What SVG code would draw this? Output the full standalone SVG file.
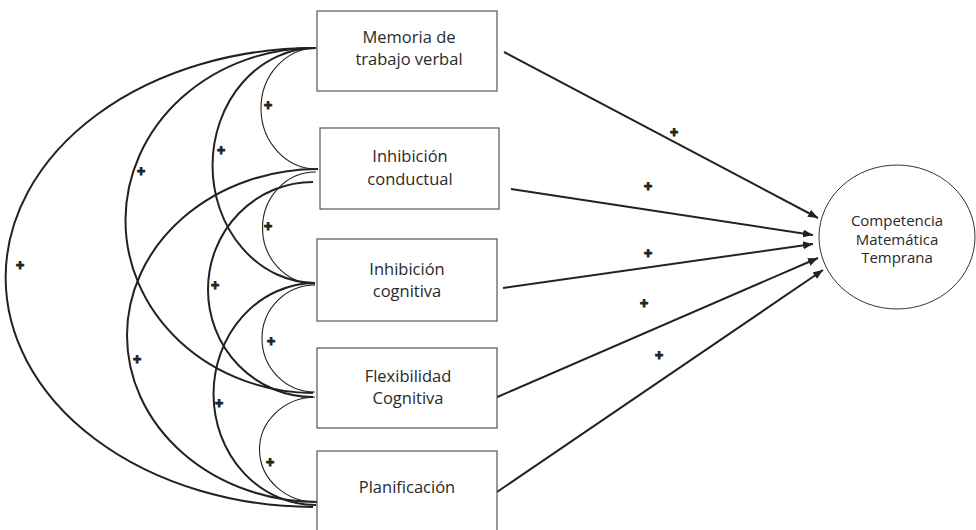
<svg xmlns="http://www.w3.org/2000/svg" width="976" height="530" viewBox="0 0 976 530">
<style>
.box{fill:#fff;stroke:#555;stroke-width:1.2}
.lbl{font-family:"Open Sans","Noto Sans",sans-serif;font-size:16.5px;fill:#2a2a2a;text-anchor:middle}
.elbl{font-family:"Open Sans","Noto Sans",sans-serif;font-size:15px;fill:#2a2a2a;text-anchor:middle}
.thin{fill:none;stroke:#222;stroke-width:1.1}
.thick{fill:none;stroke:#222;stroke-width:2}
.arr{fill:none;stroke:#222;stroke-width:2;marker-end:url(#ah)}
.plus{font-family:"Liberation Sans",sans-serif;font-weight:bold;font-size:14px;fill:#222;stroke:#222;stroke-width:1;text-anchor:middle}
</style>
<defs>
<marker id="ah" viewBox="0 0 10 8" refX="10" refY="4" markerWidth="10" markerHeight="8" markerUnits="userSpaceOnUse" orient="auto">
<path d="M0,0 L10,4 L0,8 z" fill="#222"/>
</marker>
</defs>
<g id="connectors">
<path class="thin" d="M316,48 A56,60.5 0 0 0 318,169"/>
<path class="thin" d="M316,172 A53,56 0 0 0 315,284"/>
<path class="thin" d="M315,285 A53,53.5 0 0 0 315,392"/>
<path class="thin" d="M315,397 A57,52.5 0 0 0 318,502"/>
<path class="thick" d="M316,48 A103,117.5 0 0 0 315,283"/>
<path class="thick" d="M313,182 A105,107.5 0 0 0 313,397"/>
<path class="thick" d="M315,283 A102,111 0 0 0 316,505"/>
<path class="thick" d="M316,48 A189,172.5 0 0 0 313,393"/>
<path class="thick" d="M318,169 A191,166.5 0 0 0 318,502"/>
<path class="thick" d="M316,48 A309,229.5 0 0 0 313,507"/>
<line class="arr" x1="504" y1="52" x2="818" y2="218"/>
<line class="arr" x1="511" y1="189" x2="813" y2="235"/>
<line class="arr" x1="503" y1="288" x2="813" y2="244"/>
<line class="arr" x1="495" y1="398" x2="818" y2="258"/>
<line class="arr" x1="497" y1="492" x2="823" y2="270"/>
<text class="plus" x="268" y="110">+</text>
<text class="plus" x="268" y="231">+</text>
<text class="plus" x="271" y="346">+</text>
<text class="plus" x="270" y="467">+</text>
<text class="plus" x="221" y="155">+</text>
<text class="plus" x="215" y="290">+</text>
<text class="plus" x="219" y="408">+</text>
<text class="plus" x="141" y="176">+</text>
<text class="plus" x="137" y="364">+</text>
<text class="plus" x="20" y="270">+</text>
<text class="plus" x="674" y="137">+</text>
<text class="plus" x="648" y="191">+</text>
<text class="plus" x="648" y="258">+</text>
<text class="plus" x="644" y="308">+</text>
<text class="plus" x="659" y="360">+</text>
</g>
<g id="n1"><rect class="box" x="317" y="11" width="180" height="80"/><text class="lbl" x="409" y="43">Memoria de</text><text class="lbl" x="409" y="65">trabajo verbal</text></g>
<g id="n2"><rect class="box" x="320" y="128" width="179" height="81"/><text class="lbl" x="410" y="162">Inhibición</text><text class="lbl" x="410" y="185">conductual</text></g>
<g id="n3"><rect class="box" x="317" y="239" width="180" height="82"/><text class="lbl" x="407" y="275">Inhibición</text><text class="lbl" x="407" y="297">cognitiva</text></g>
<g id="n4"><rect class="box" x="317" y="348" width="180" height="80"/><text class="lbl" x="408" y="382">Flexibilidad</text><text class="lbl" x="408" y="404">Cognitiva</text></g>
<g id="n5"><rect class="box" x="317" y="451" width="180" height="90"/><text class="lbl" x="407" y="493">Planificación</text></g>
<g id="n6"><ellipse cx="897" cy="237" rx="78" ry="72" fill="#fff" stroke="#333" stroke-width="1"/><text class="elbl" x="897" y="226">Competencia</text><text class="elbl" x="897" y="244.5">Matemática</text><text class="elbl" x="897" y="263">Temprana</text></g>
</svg>
